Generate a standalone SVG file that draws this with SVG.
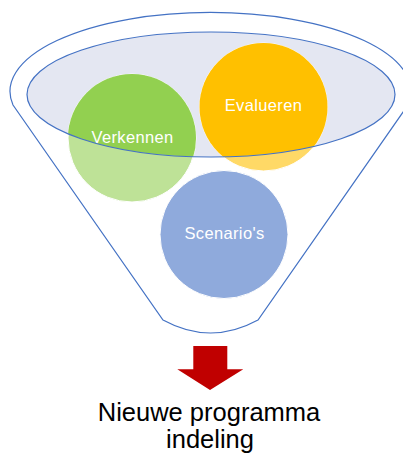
<svg xmlns="http://www.w3.org/2000/svg" width="403" height="454" viewBox="0 0 403 454">
<style>
.ln{fill:none;stroke:#4472C4;stroke-width:1.2}
.lbl{font-family:"Liberation Sans",Arial,sans-serif;font-size:16.5px;fill:#fff;text-anchor:middle;letter-spacing:0.35px}
.cap{font-family:"Liberation Sans",Arial,sans-serif;font-size:25.5px;fill:#000;text-anchor:middle}
.ring{stroke:#fff;stroke-width:1}
</style>
<defs>
<clipPath id="inner"><ellipse cx="211" cy="94.5" rx="184" ry="62.5"/></clipPath>
</defs>
<rect width="403" height="454" fill="#fff"/>
<g id="funnel">
<path class="ln" d="M13,105 A200.5,79 0 1 1 408,105 L258,320 Q210.5,346 163,320 Z" fill="#fff"/>
<ellipse cx="211" cy="94.5" rx="184" ry="62.5" fill="#E4E7F2"/>
</g>
<g id="verkennen">
<circle class="ring" cx="132" cy="138" r="64" fill="#BEE297"/>
<circle cx="132" cy="138" r="64" fill="#92D050" clip-path="url(#inner)"/>
<text class="lbl" x="132.5" y="142.5">Verkennen</text>
</g>
<g id="evalueren">
<circle class="ring" cx="263.5" cy="107" r="64" fill="#FFD966"/>
<circle cx="263.5" cy="107" r="64" fill="#FFC000" clip-path="url(#inner)"/>
<text class="lbl" x="263.5" y="111">Evalueren</text>
</g>
<g id="scenarios">
<circle class="ring" cx="224" cy="234.5" r="64" fill="#8FAADC"/>
<text class="lbl" x="224.5" y="239">Scenario's</text>
</g>
<g id="rim">
<ellipse class="ln" cx="211" cy="94.5" rx="184" ry="62.5"/>
</g>
<g id="connectors">
<path d="M193.3,346 H227.3 V369.3 H243.3 L210,390 L177.3,369.3 H193.3 Z" fill="#C00000"/>
</g>
<g id="result">
<text class="cap" x="209" y="420.5">Nieuwe programma</text>
<text class="cap" x="210" y="448">indeling</text>
</g>
</svg>
